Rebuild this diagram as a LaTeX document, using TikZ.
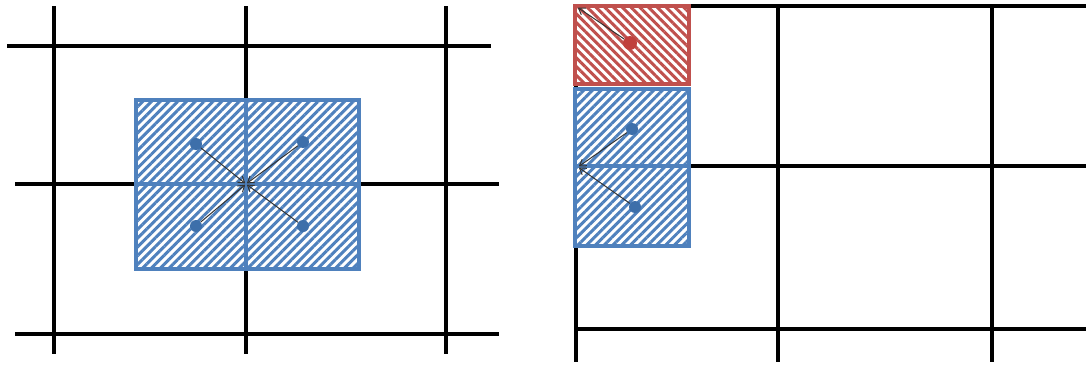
\documentclass[tikz,border=0pt]{standalone}
\usetikzlibrary{patterns.meta,arrows.meta}
\definecolor{oblue}{HTML}{4F81BD}
\definecolor{ored}{HTML}{C0504D}
\definecolor{dotblue}{HTML}{3D6FAA}
\definecolor{dotred}{HTML}{C0403D}
\begin{document}
\begin{tikzpicture}[x=1pt,y=-1pt,
  gridline/.style={line width=4pt,black},
  bluebox/.style={draw=oblue,line width=3.2pt,preaction={fill=white},
    pattern={Lines[angle=45,distance=6.2pt,line width=3pt]},pattern color=oblue},
  redbox/.style={draw=ored,line width=3.2pt,preaction={fill=white},
    pattern={Lines[angle=-45,distance=6.2pt,line width=3pt]},pattern color=ored},
  divider/.style={draw=oblue,line width=3.2pt},
  bdot/.style={circle,fill=dotblue,inner sep=0pt,minimum size=12pt},
  rdot/.style={circle,fill=dotred,inner sep=0pt,minimum size=14pt},
  flow/.style={draw=black!80,line width=1pt,-{Straight Barb[length=6pt,width=8pt]},shorten >=1pt}]
\useasboundingbox (0,0) rectangle (1086,367);
% ---------- left panel grid ----------
\draw[gridline] (54,6) -- (54,354);
\draw[gridline] (246,6) -- (246,354);
\draw[gridline] (446,6) -- (446,354);
\draw[gridline] (7,46) -- (491,46);
\draw[gridline] (15,184) -- (499,184);
\draw[gridline] (15,334) -- (499,334);
% blue box
\path[bluebox] (136,100) rectangle (359,269);
\draw[divider] (246,100) -- (246,269);
\draw[divider] (136,184) -- (359,184);
\coordinate (c) at (246,184);
\node[bdot] (d1) at (196,144) {};
\node[bdot] (d2) at (303,142) {};
\node[bdot] (d3) at (196,226) {};
\node[bdot] (d4) at (303,226) {};
\draw[flow] (d1) -- (c);
\draw[flow] (d2) -- (c);
\draw[flow] (d3) -- (c);
\draw[flow] (d4) -- (c);
% ---------- right panel grid ----------
\draw[gridline] (576,5) -- (576,362);
\draw[gridline] (778,6) -- (778,362);
\draw[gridline] (992,6) -- (992,362);
\draw[gridline] (576,6) -- (1086,6);
\draw[gridline] (576,166) -- (1086,166);
\draw[gridline] (576,329) -- (1086,329);
% boxes
\path[redbox] (575,6) rectangle (689,84);
\path[bluebox] (575,89) rectangle (689,246);
\draw[divider] (575,166) -- (689,166);
\coordinate (corner) at (577,7);
\coordinate (edge) at (578,167);
\node[rdot] (r1) at (630,43) {};
\node[bdot] (e1) at (632,129) {};
\node[bdot] (e2) at (635,207) {};
\draw[flow] (r1) -- (corner);
\draw[flow] (e1) -- (edge);
\draw[flow] (e2) -- (edge);
\end{tikzpicture}
\end{document}
